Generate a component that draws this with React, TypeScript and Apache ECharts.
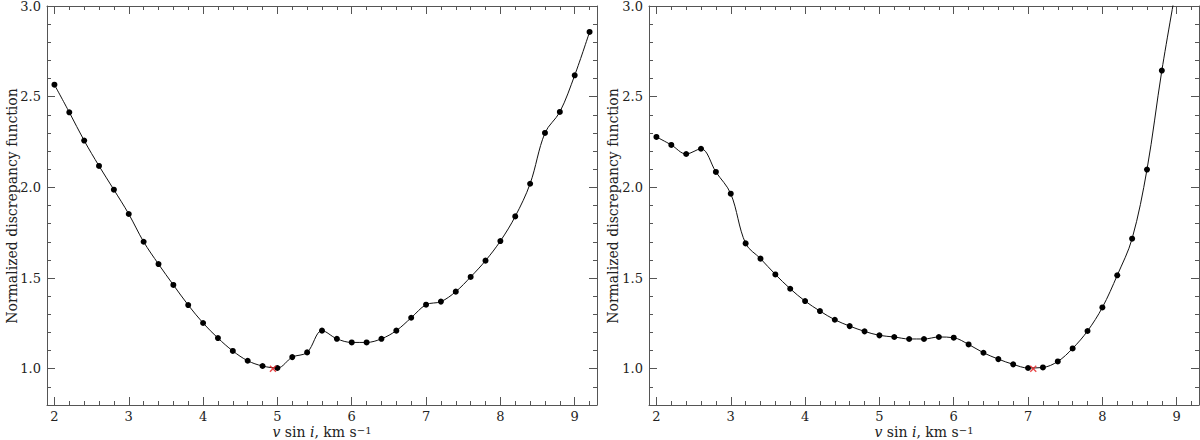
import React, { useEffect, useRef } from "react";
import * as echarts from "echarts";

// ---- data ----
const leftVsini = [2.0, 2.2, 2.4, 2.6, 2.8, 3.0, 3.2, 3.4, 3.6, 3.8, 4.0, 4.2, 4.4, 4.6, 4.8, 5.0, 5.2, 5.4, 5.6, 5.8, 6.0, 6.2, 6.4, 6.6, 6.8, 7.0, 7.2, 7.4, 7.6, 7.8, 8.0, 8.2, 8.4, 8.6, 8.8, 9.0, 9.2];
const leftDiscrepancy = [2.566, 2.414, 2.258, 2.118, 1.987, 1.853, 1.700, 1.577, 1.462, 1.351, 1.252, 1.169, 1.098, 1.044, 1.015, 1.004, 1.064, 1.090, 1.210, 1.165, 1.145, 1.145, 1.165, 1.210, 1.281, 1.353, 1.370, 1.425, 1.506, 1.596, 1.704, 1.840, 2.020, 2.300, 2.416, 2.618, 2.857];
const rightVsini = [2.0, 2.2, 2.4, 2.6, 2.8, 3.0, 3.2, 3.4, 3.6, 3.8, 4.0, 4.2, 4.4, 4.6, 4.8, 5.0, 5.2, 5.4, 5.6, 5.8, 6.0, 6.2, 6.4, 6.6, 6.8, 7.0, 7.2, 7.4, 7.6, 7.8, 8.0, 8.2, 8.4, 8.6, 8.8, 9.0];
const rightDiscrepancy = [2.278, 2.234, 2.184, 2.213, 2.085, 1.965, 1.691, 1.607, 1.520, 1.441, 1.373, 1.318, 1.270, 1.235, 1.206, 1.184, 1.175, 1.164, 1.164, 1.175, 1.171, 1.134, 1.088, 1.053, 1.024, 1.004, 1.007, 1.040, 1.112, 1.208, 1.338, 1.515, 1.717, 2.098, 2.644, 3.12];
const leftMinimum = [4.94, 1.0];
const rightMinimum = [7.07, 1.0];

const xMajorTicks = [2, 3, 4, 5, 6, 7, 8, 9];
const xMinorTicks = [2.0, 2.2, 2.4, 2.6, 2.8, 3.0, 3.2, 3.4, 3.6, 3.8, 4.0, 4.2, 4.4, 4.6, 4.8, 5.0, 5.2, 5.4, 5.6, 5.8, 6.0, 6.2, 6.4, 6.6, 6.8, 7.0, 7.2, 7.4, 7.6, 7.8, 8.0, 8.2, 8.4, 8.6, 8.8, 9.0, 9.2];
const yMajorTicks = [1.0, 1.5, 2.0, 2.5, 3.0];
const yMinorTicks = [0.8, 0.9, 1.0, 1.1, 1.2, 1.3, 1.4, 1.5, 1.6, 1.7, 1.8, 1.9, 2.0, 2.1, 2.2, 2.3, 2.4, 2.5, 2.6, 2.7, 2.8, 2.9, 3.0];

const X_MIN = 1.9;
const X_MAX = 9.3;
const Y_MIN = 0.8;
const Y_MAX = 3.0;

const yAxisTitle = "Normalized discrepancy function";

const FONT = "DejaVu Serif";
const FRAME = "#555";
const TEXT = "#222";

function makeX(gridIndex: number, position: string, major: boolean) {
  return {
    type: "value",
    gridIndex,
    position,
    min: X_MIN,
    max: X_MAX,
    axisLine: { show: major, lineStyle: { color: FRAME, width: 1 } },
    axisTick: {
      show: true,
      inside: true,
      length: major ? 8 : 4,
      customValues: major ? xMajorTicks : xMinorTicks,
      lineStyle: { color: FRAME, width: 1 },
    },
    axisLabel: {
      show: major && position === "bottom",
      customValues: xMajorTicks,
      formatter: (v: number) => String(Math.round(v)),
      fontFamily: FONT,
      fontSize: 13,
      color: TEXT,
      margin: 5,
    },
    splitLine: { show: false },
  };
}

function makeY(gridIndex: number, position: string, major: boolean) {
  return {
    type: "value",
    gridIndex,
    position,
    min: Y_MIN,
    max: Y_MAX,
    axisLine: { show: major, lineStyle: { color: FRAME, width: 1 } },
    axisTick: {
      show: true,
      inside: true,
      length: major ? 8 : 4,
      customValues: major ? yMajorTicks : yMinorTicks,
      lineStyle: { color: FRAME, width: 1 },
    },
    axisLabel: {
      show: major && position === "left",
      customValues: yMajorTicks,
      formatter: (v: number) => v.toFixed(1),
      fontFamily: FONT,
      fontSize: 13,
      color: TEXT,
      margin: 6,
    },
    splitLine: { show: false },
  };
}

function curveSeries(idx: number, xs: number[], ys: number[]) {
  return {
    type: "line",
    xAxisIndex: idx * 4,
    yAxisIndex: idx * 4,
    data: xs.map((x, i) => [x, ys[i]]),
    smooth: 0.35,
    symbol: "circle",
    symbolSize: 6,
    showSymbol: true,
    clip: true,
    lineStyle: { color: "#111", width: 1 },
    itemStyle: { color: "#000" },
    z: 2,
  };
}

function minSeries(idx: number, pt: number[]) {
  return {
    type: "scatter",
    xAxisIndex: idx * 4,
    yAxisIndex: idx * 4,
    data: [pt],
    symbol: "path://M0 0L10 10M10 0L0 10",
    symbolSize: 6,
    itemStyle: { color: "none", borderColor: "#e41a1c", borderWidth: 1.4 },
    z: 5,
  };
}

function xTitle(cx: number) {
  return {
    type: "text",
    x: cx,
    y: 438,
    style: {
      text: "{n|}{i|v}{n| sin }{i|i}{n|, km s}{s|\u22121}",
      align: "center",
      verticalAlign: "middle",
      fontFamily: FONT,
      fontSize: 14,
      fill: TEXT,
      rich: {
        n: { fontFamily: FONT, fontSize: 14, lineHeight: 26, verticalAlign: "top", fill: TEXT },
        i: { fontFamily: FONT, fontSize: 14, fontStyle: "italic", lineHeight: 26, verticalAlign: "top", fill: TEXT },
        s: { fontFamily: FONT, fontSize: 10, lineHeight: 8, verticalAlign: "top", fill: TEXT },
      },
    },
  };
}

function yTitle(cx: number) {
  return {
    type: "text",
    x: cx,
    y: 206,
    rotation: Math.PI / 2,
    style: {
      text: yAxisTitle,
      align: "center",
      verticalAlign: "middle",
      fontFamily: FONT,
      fontSize: 14,
      fill: TEXT,
    },
  };
}

export default function App() {
  const ref = useRef<HTMLDivElement>(null);
  useEffect(() => {
    if (!ref.current) return;
    const chart = echarts.init(ref.current, undefined, { renderer: "svg" });
    const grids = [
      { left: 47, top: 6, width: 550, height: 399, containLabel: false, outerBoundsMode: "none" },
      { left: 649, top: 6, width: 550, height: 399, containLabel: false, outerBoundsMode: "none" },
    ];
    const xAxis: any[] = [];
    const yAxis: any[] = [];
    for (let g = 0; g < 2; g++) {
      xAxis.push(makeX(g, "bottom", true), makeX(g, "bottom", false), makeX(g, "top", true), makeX(g, "top", false));
      yAxis.push(makeY(g, "left", true), makeY(g, "left", false), makeY(g, "right", true), makeY(g, "right", false));
    }
    chart.setOption({
      animation: false,
      backgroundColor: "#fff",
      grid: grids,
      xAxis,
      yAxis,
      series: [
        curveSeries(0, leftVsini, leftDiscrepancy),
        curveSeries(1, rightVsini, rightDiscrepancy),
        minSeries(0, leftMinimum),
        minSeries(1, rightMinimum),
      ],
      graphic: [xTitle(322), xTitle(924), yTitle(12), yTitle(613)],
    } as any);
    return () => chart.dispose();
  }, []);
  return (
    <div
      ref={ref}
      style={{ position: "fixed", left: 0, top: 0, width: 1200, height: 440 }}
    />
  );
}
